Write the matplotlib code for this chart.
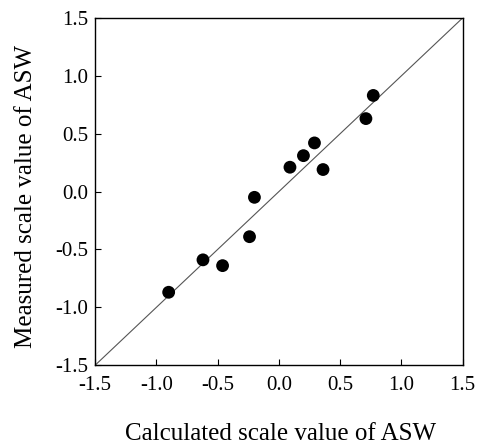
import numpy as np
import matplotlib.pyplot as plt

plt.rcParams['font.family'] = ['Liberation Serif', 'DejaVu Serif']

# calculated vs measured scale values of ASW
calculated = [0.77, 0.71, 0.29, 0.20, 0.09, 0.36, -0.20, -0.24, -0.62, -0.46, -0.90]
measured = [0.83, 0.63, 0.42, 0.31, 0.21, 0.19, -0.05, -0.39, -0.59, -0.64, -0.87]
ticks = [-1.5, -1.0, -0.5, 0.0, 0.5, 1.0, 1.5]

fig = plt.figure(figsize=(4.83, 4.47), dpi=100)
ax = fig.add_axes([0.197, 0.183, 0.761, 0.777])

ax.plot([-1.5, 1.5], [-1.5, 1.5], color='#555555', lw=0.8)
ax.scatter(calculated, measured, s=85, color='black', zorder=3, edgecolors='none')

ax.set_xlim(-1.5, 1.5)
ax.set_ylim(-1.5, 1.5)
ax.set_xticks(ticks)
ax.set_yticks(ticks)
ax.set_xticklabels(['%.1f' % t for t in ticks])
ax.set_yticklabels(['%.1f' % t for t in ticks])
ax.tick_params(direction='in', length=4, width=0.8, labelsize=15, pad=5)
ax.tick_params(axis='x', pad=8)
for s in ax.spines.values():
    s.set_linewidth(1.0)

ax.set_xlabel('Calculated scale value of ASW', fontsize=18)
ax.set_ylabel('Measured scale value of ASW', fontsize=18)
ax.xaxis.set_label_coords(0.504, -0.165)
ax.yaxis.set_label_coords(-0.158, 0.485)

fig.savefig('out.png', dpi=100)
